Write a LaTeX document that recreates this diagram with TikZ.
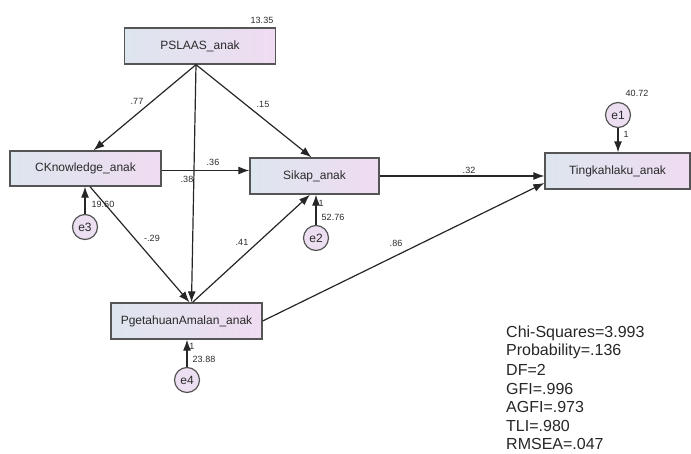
\documentclass[tikz,border=0pt]{standalone}
\usepackage{fontspec}
\setmainfont{Liberation Sans}
\usetikzlibrary{arrows.meta,calc}
\definecolor{boxl}{HTML}{DDE5EE}
\definecolor{boxr}{HTML}{F0DCF2}
\definecolor{efill}{HTML}{ECDFF1}
\definecolor{edgec}{HTML}{555555}
\definecolor{txt}{HTML}{2A2A2A}
\begin{document}
\begin{tikzpicture}[x=1pt,y=-1pt,
  var/.style={draw=edgec,line width=1.3pt,left color=boxl,right color=boxr,
    rectangle,inner sep=0pt,text=txt,font=\fontsize{12}{12}\selectfont},
  err/.style={draw=edgec,line width=1.2pt,fill=efill,circle,minimum size=25pt,
    inner sep=0pt,text=txt,font=\fontsize{12}{12}\selectfont},
  path/.style={draw=black!85,line width=1.2pt,-{Latex[length=11pt,width=8pt]}},
  lbl/.style={inner sep=0pt,text=txt,font=\fontsize{9}{9}\selectfont},
  stat/.style={inner sep=0pt,anchor=west,text=black!85,font=\fontsize{16}{16}\selectfont}]
\useasboundingbox (0,0) rectangle (691,454);
% variables
\node[var,minimum width=151pt,minimum height=36pt] (ps) at (200,46) {PSLAAS\_anak};
\node[var,minimum width=151pt,minimum height=35pt] (ck) at (85.5,168.5) {CKnowledge\_anak};
\node[var,minimum width=129pt,minimum height=36pt] (sk) at (314.5,176) {Sikap\_anak};
\node[var,minimum width=145pt,minimum height=36pt] (tl) at (617.5,171) {Tingkahlaku\_anak};
\node[var,minimum width=151pt,minimum height=36pt] (pa) at (186.5,321) {PgetahuanAmalan\_anak};
% errors
\node[err] (e1) at (618,115) {e1};
\node[err] (e2) at (316,238) {e2};
\node[err] (e3) at (85,227) {e3};
\node[err] (e4) at (187,380) {e4};
% paths
\draw[path] ([xshift=-4pt]ps.south) -- ([xshift=8pt]ck.north);
\draw[path] ([xshift=-4pt]ps.south) -- ([xshift=-3pt]sk.north);
\draw[path] ([xshift=-4pt]ps.south) -- ([xshift=5pt]pa.north);
\draw[path] ([yshift=-2pt]ck.east) -- ([yshift=-2pt]ck.east -| sk.west);
\draw[path] ([xshift=4.5pt]ck.south) -- ([xshift=3pt]pa.north);
\draw[path] ([xshift=6pt]pa.north) -- ([xshift=-4.5pt]sk.south);
\draw[path] (sk.east) -- (sk.east -| tl.west);
\draw[path] (pa.east) -- ([yshift=-12pt]tl.west);
\draw[path] (e1.south) -- (e1.south |- tl.north);
\draw[path] (e2.north) -- (e2.north |- sk.south);
\draw[path] (e3.north) -- (e3.north |- ck.south);
\draw[path] (e4.north) -- (e4.north |- pa.south);
% coefficients
\node[lbl] (l77) at (137,101) {.77};
\node[lbl] (l15) at (263,104) {.15};
\node[lbl] (l38) at (187,179) {.38};
\node[lbl] (l36) at (213,162) {.36};
\node[lbl] (l29) at (152,238) {-.29};
\node[lbl] (l41) at (242,242) {.41};
\node[lbl] (l32) at (469,170) {.32};
\node[lbl] (l86) at (396,243) {.86};
% variances and fixed loadings
\node[lbl] (v13) at (262,20) {13.35};
\node[lbl] (v40) at (637,93) {40.72};
\node[lbl] (v52) at (333,217) {52.76};
\node[lbl] (v19) at (103,204) {19.60};
\node[lbl] (v23) at (204,359) {23.88};
\node[lbl] (o1) at (626,134) {1};
\node[lbl] (o2) at (321,203) {1};
\node[lbl] (o4) at (192,346) {1};
% fit statistics
\node[stat] (s1) at (506,333) {Chi-Squares=3.993};
\node[stat] (s2) at (506,351.5) {Probability=.136};
\node[stat] (s3) at (506,370) {DF=2};
\node[stat] (s4) at (506,388.5) {GFI=.996};
\node[stat] (s5) at (506,407) {AGFI=.973};
\node[stat] (s6) at (506,425.5) {TLI=.980};
\node[stat] (s7) at (506,444) {RMSEA=.047};
\end{tikzpicture}
\end{document}
